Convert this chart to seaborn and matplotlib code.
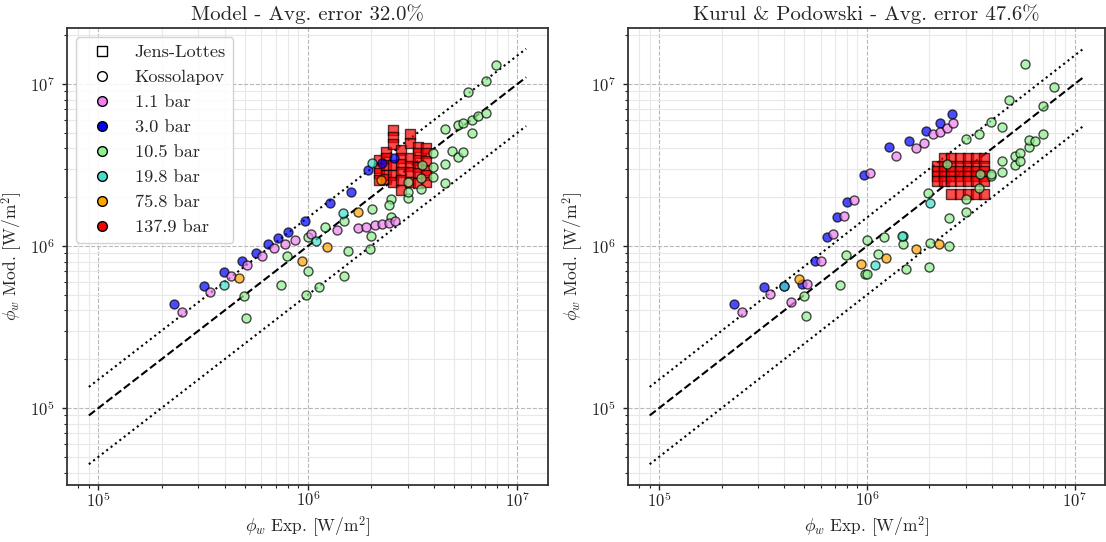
import numpy as np
import pandas as pd
import matplotlib
matplotlib.use("Agg")
import matplotlib.pyplot as plt
from matplotlib.lines import Line2D
from matplotlib.ticker import NullFormatter
import seaborn as sns

# ---------------- data (W/m^2) ----------------
titles = ["Model - Avg. error 32.0%", "Kurul & Podowski - Avg. error 47.6%"]

# Jens-Lottes (137.9 bar) - squares
jl_exp = ([2.18e6] * 4 + [2.35e6] * 5 + [2.54e6] * 6 + [2.79e6] * 6
          + [3.06e6] * 6 + [3.35e6] * 6 + [3.65e6] * 6)
jl_model = [3.41e6, 3.04e6, 2.83e6, 2.57e6,
            3.78e6, 3.50e6, 3.17e6, 2.75e6, 2.60e6,
            5.21e6, 4.72e6, 4.27e6, 3.17e6, 2.75e6, 2.49e6,
            3.92e6, 3.50e6, 3.22e6, 2.87e6, 2.57e6, 2.23e6,
            4.92e6, 4.33e6, 3.50e6, 3.13e6, 2.87e6, 2.49e6,
            4.10e6, 3.76e6, 3.41e6, 3.08e6, 2.83e6, 2.46e6,
            4.04e6, 3.76e6, 3.36e6, 2.96e6, 2.75e6, 2.49e6]
jl_kurul = [3.13e6, 2.91e6, 2.72e6, 2.53e6,
            3.50e6, 3.13e6, 2.91e6, 2.72e6, 2.53e6,
            3.50e6, 3.13e6, 2.91e6, 2.72e6, 2.53e6, 2.10e6,
            3.50e6, 3.13e6, 2.91e6, 2.72e6, 2.53e6, 2.10e6,
            3.50e6, 3.13e6, 2.91e6, 2.72e6, 2.53e6, 2.10e6,
            3.50e6, 3.13e6, 2.91e6, 2.72e6, 2.53e6, 2.10e6,
            3.50e6, 3.13e6, 2.91e6, 2.72e6, 2.53e6, 2.10e6]

# Kossolapov 1.1 bar
p11_exp = [2.51e5, 3.41e5, 4.30e5, 5.12e5, 6.04e5, 6.89e5, 7.77e5, 8.67e5,
           1.033e6, 1.375e6, 1.73e6, 1.889e6, 2.084e6, 2.25e6, 2.43e6, 2.597e6]
p11_model = [3.90e5, 5.17e5, 6.49e5, 7.59e5, 8.74e5, 9.79e5, 1.036e6, 1.096e6,
             1.194e6, 1.264e6, 1.30e6, 1.318e6, 1.356e6, 1.376e6, 1.396e6, 1.435e6]
p11_kurul = [3.90e5, 5.03e5, 4.49e5, 5.80e5, 8.14e5, 1.194e6, 1.54e6, 1.93e6,
             2.83e6, 3.61e6, 4.04e6, 4.33e6, 4.92e6, 5.07e6, 5.36e6, 5.75e6]

# Kossolapov 3.0 bar
p30_exp = [2.30e5, 3.20e5, 3.98e5, 4.85e5, 5.65e5, 6.45e5, 7.20e5, 8.03e5,
           9.67e5, 1.273e6, 1.602e6, 1.931e6, 2.251e6, 2.568e6]
p30_model = [4.37e5, 5.64e5, 6.87e5, 8.04e5, 9.12e5, 1.036e6, 1.128e6, 1.227e6,
             1.435e6, 1.853e6, 2.16e6, 2.96e6, 3.27e6, 3.51e6]
p30_kurul = [4.37e5, 5.55e5, 5.64e5, 5.87e5, 8.04e5, 1.144e6, 1.52e6, 1.88e6,
             2.75e6, 4.10e6, 4.46e6, 5.14e6, 5.75e6, 6.53e6]

# Kossolapov 10.5 bar
p105_exp = [4.96e5, 5.07e5, 7.44e5, 7.94e5, 9.78e5, 1.00e6, 1.00e6, 1.128e6,
            1.205e6, 1.484e6, 1.484e6, 1.55e6, 1.973e6, 1.995e6, 2.017e6,
            2.485e6, 2.485e6, 2.43e6, 2.994e6, 2.994e6, 2.994e6, 3.452e6,
            3.452e6, 3.49e6, 3.937e6, 3.937e6, 3.937e6, 4.49e6, 4.49e6, 4.49e6,
            4.85e6, 5.18e6, 5.18e6, 5.47e6, 5.47e6, 5.78e6, 6.04e6, 6.04e6,
            6.45e6, 7.04e6, 7.04e6, 7.94e6]
p105_model = [4.89e5, 3.58e5, 5.71e5, 8.74e5, 4.96e5, 6.97e5, 1.13e6, 5.55e5,
              1.318e6, 1.435e6, 6.49e5, 9.38e5, 9.52e5, 1.16e6, 1.70e6,
              1.96e6, 1.50e6, 1.80e6, 1.99e6, 2.49e6, 2.16e6, 2.26e6,
              2.64e6, 3.17e6, 3.76e6, 3.08e6, 2.68e6, 2.46e6, 3.22e6, 5.28e6,
              3.87e6, 3.55e6, 5.59e6, 5.75e6, 3.82e6, 8.93e6, 6.00e6, 4.99e6,
              6.35e6, 6.63e6, 1.043e7, 1.31e7]
p105_kurul = [4.93e5, 3.70e5, 5.71e5, 8.78e5, 6.68e5, 6.68e5, 1.085e6, 8.95e5,
              1.14e6, 1.03e6, 1.15e6, 7.17e5, 2.13e6, 7.37e5, 1.05e6,
              1.007e6, 1.48e6, 3.22e6, 1.63e6, 4.59e6, 1.96e6, 4.92e6,
              2.29e6, 2.80e6, 5.86e6, 2.69e6, 2.79e6, 3.36e6, 5.41e6, 2.85e6,
              7.97e6, 3.17e6, 3.57e6, 3.75e6, 3.37e6, 1.32e7, 4.08e6, 4.52e6,
              4.47e6, 4.90e6, 7.35e6, 9.54e6]

# Kossolapov 19.8 bar
p198_exp = [3.98e5, 1.092e6, 1.468e6, 2.017e6]
p198_model = [5.71e5, 1.081e6, 1.608e6, 3.27e6]
p198_kurul = [5.63e5, 7.62e5, 1.16e6, 1.84e6]

# Kossolapov 75.8 bar
p758_exp = [4.69e5, 9.36e5, 1.232e6, 1.73e6, 2.227e6]
p758_model = [6.31e5, 8.04e5, 9.93e5, 1.63e6, 2.57e6]
p758_kurul = [6.26e5, 7.77e5, 8.46e5, 9.61e5, 1.03e6]

# reference lines
line_x = [9.0e4, 1.1e7]
band_factors = [0.5, 1.5]

legend_labels = ["Jens-Lottes", "Kossolapov", "1.1 bar", "3.0 bar", "10.5 bar",
                 "19.8 bar", "75.8 bar", "137.9 bar"]
pressure_colors = ["violet", "blue", "lightgreen", "turquoise", "orange", "red"]

# ---------------- style ----------------
sns.set_style("white")
plt.rcParams.update({
    "font.family": ["cmr10"],
    "mathtext.fontset": "cm",
    "axes.formatter.use_mathtext": True,
    "axes.unicode_minus": False,
})

fig = plt.figure(figsize=(11.06, 5.42), dpi=100)
ax1 = fig.add_axes([67 / 1106, 57 / 542, 481 / 1106, 457 / 542])
ax2 = fig.add_axes([628 / 1106, 57 / 542, 477 / 1106, 457 / 542])

series = [
    (p105_exp, p105_model, p105_kurul, "lightgreen"),
    (p30_exp, p30_model, p30_kurul, "blue"),
    (p11_exp, p11_model, p11_kurul, "violet"),
    (p198_exp, p198_model, p198_kurul, "turquoise"),
    (p758_exp, p758_model, p758_kurul, "orange"),
]

for k, (ax, title) in enumerate(zip([ax1, ax2], titles)):
    ax.set_xscale("log")
    ax.set_yscale("log")
    lx = np.array(line_x)
    ax.plot(lx, lx, color="black", ls="--", lw=1.5, zorder=2)
    for f in band_factors:
        ax.plot(lx, f * lx, color="black", ls=":", lw=1.5, zorder=2)

    jl_y = jl_model if k == 0 else jl_kurul
    sns.scatterplot(x=jl_exp, y=jl_y, ax=ax, marker="s", s=55, color="red",
                    edgecolor="black", linewidth=1.0, alpha=0.7, zorder=3,
                    legend=False)
    for ex, ym, yk, c in series:
        sns.scatterplot(x=ex, y=(ym if k == 0 else yk), ax=ax, marker="o", s=42,
                        color=c, edgecolor="black", linewidth=1.0, alpha=0.7,
                        zorder=3, legend=False)

    ax.grid(True, which="major", ls="--", color="#b8b8b8", lw=0.8)
    ax.grid(True, which="minor", ls="-", color="#e8e8e8", lw=0.8)
    ax.set_axisbelow(True)
    ax.tick_params(which="both", direction="out", bottom=True, left=True,
                   colors="#222222", labelsize=12)
    ax.tick_params(which="major", length=3.8, width=1.0)
    ax.tick_params(which="minor", length=2.2, width=0.8)
    ax.tick_params(axis="x", which="both", pad=0)
    ax.tick_params(axis="y", which="both", pad=5)
    ax.xaxis.set_minor_formatter(NullFormatter())
    ax.yaxis.set_minor_formatter(NullFormatter())
    for sp in ax.spines.values():
        sp.set_color("#333333")
        sp.set_linewidth(1.3)
    ax.set_title(title, fontsize=15, pad=6)
    ax.set_xlabel(r"$\phi_w$ Exp. [W/m$^2$]", fontsize=12.5, labelpad=3)
    ax.set_ylabel(r"$\phi_w$ Mod. [W/m$^2$]", fontsize=12.5)

handles = [
    Line2D([], [], marker="s", ls="None", markersize=7, markerfacecolor="white",
           markeredgecolor="black", label=legend_labels[0]),
    Line2D([], [], marker="o", ls="None", markersize=7, markerfacecolor="white",
           markeredgecolor="black", label=legend_labels[1]),
]
for lab, c in zip(legend_labels[2:], pressure_colors):
    handles.append(Line2D([], [], marker="o", ls="None", markersize=7,
                          markerfacecolor=c, markeredgecolor="black", label=lab))
ax1.legend(handles=handles, loc="upper left", fontsize=13.2, frameon=True,
           fancybox=True, framealpha=0.85, edgecolor="#cccccc")

fig.savefig("out.png", dpi=100)
